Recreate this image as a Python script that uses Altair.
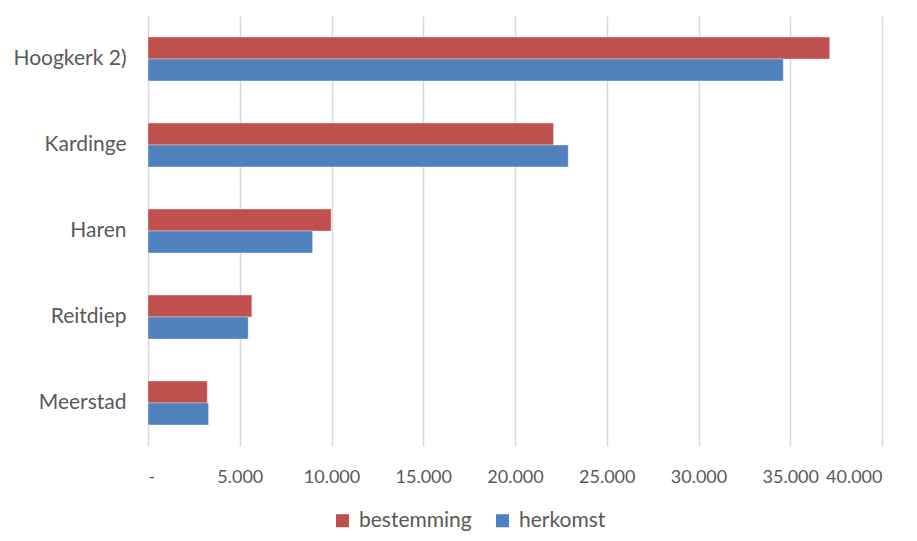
import altair as alt
import pandas as pd

categories = ["Hoogkerk 2)", "Kardinge", "Haren", "Reitdiep", "Meerstad"]
bestemming = [37150, 22100, 9980, 5660, 3230]
herkomst = [34620, 22900, 8970, 5460, 3300]
series = ["bestemming", "herkomst"]
colors = ["#C0504D", "#4F81BD"]

rows = []
for c, b, h in zip(categories, bestemming, herkomst):
    rows.append({"locatie": c, "reeks": "bestemming", "waarde": b})
    rows.append({"locatie": c, "reeks": "herkomst", "waarde": h})
df = pd.DataFrame(rows)

FONT = "Lato"
TXT = "#595959"

chart = alt.Chart(df).mark_bar(strokeWidth=1, strokeOpacity=0.35, stroke="white").encode(
    x=alt.X("waarde:Q", scale=alt.Scale(domain=[0, 40000], nice=False),
            axis=alt.Axis(values=list(range(0, 40001, 5000)), title=None,
                          labelExpr="datum.value == 0 ? '-' : format(datum.value/1000, 'd') + '.000'",
                          grid=True, gridColor="#D9D9D9", gridWidth=1.5,
                          domain=False, ticks=False, labelPadding=22,
                          labelFontSize=18, labelColor=TXT, labelFont=FONT)),
    y=alt.Y("locatie:N", sort=categories,
            scale=alt.Scale(paddingInner=0.49, paddingOuter=0.245),
            axis=alt.Axis(title=None, domain=False, ticks=False, labelPadding=22,
                          labelFontSize=21, labelColor=TXT, labelFont=FONT)),
    yOffset=alt.YOffset("reeks:N", sort=series, scale=alt.Scale(paddingInner=0, paddingOuter=0)),
    color=alt.Color("reeks:N", sort=series,
                    scale=alt.Scale(domain=series, range=colors),
                    legend=alt.Legend(title=None, orient="none", legendX=184, legendY=494,
                                      direction="horizontal", symbolType="square",
                                      symbolSize=170, symbolStrokeWidth=0,
                                      labelFontSize=21, labelColor=TXT, labelFont=FONT,
                                      columnPadding=20, labelOffset=6)),
).properties(
    width=734, height=430,
    autosize=alt.AutoSizeParams(type="none"),
    padding={"left": 140, "top": 8, "right": 27, "bottom": 87},
).configure_view(stroke=None)

chart.save("out.html", embed_options={"renderer": "svg", "actions": False})
